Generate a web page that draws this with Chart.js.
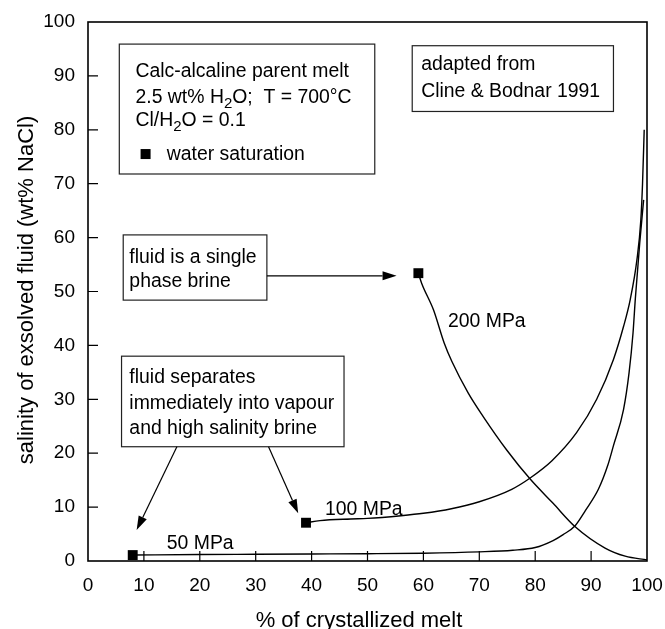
<!DOCTYPE html>
<html>
<head>
<meta charset="utf-8">
<script src="https://cdn.jsdelivr.net/npm/chart.js@4/dist/chart.umd.min.js"></script>
<style>
html,body{margin:0;padding:0;background:#fff;}
canvas{display:block;}
</style>
</head>
<body>
<canvas id="c" width="665" height="629"></canvas>
<script>
// ---- data ----
const xTickLabels = ['0','10','20','30','40','50','60','70','80','90','100'];
const yTickLabels = ['0','10','20','30','40','50','60','70','80','90','100'];

const crystallized50 = [8, 20, 30, 40, 50, 60, 70, 76, 80, 83.2, 85, 87.1, 89, 91.3, 93, 94, 95.8, 96.8, 97.5, 97.9, 98.7, 99.4];
const salinity50     = [1.1, 1.2, 1.25, 1.3, 1.35, 1.45, 1.7, 2.0, 2.5, 3.8, 4.9, 6.5, 9.4, 13.3, 17.8, 21.4, 28.1, 35, 42.3, 48.5, 59, 67];

const crystallized100 = [39, 41.5, 47, 50, 56, 60, 65, 70, 75.8, 79.1, 83, 87.4, 91, 94, 95.8, 97, 98.2, 98.9, 99.2, 99.5];
const salinity100     = [7.1, 7.5, 7.8, 7.9, 8.4, 8.85, 9.7, 11.0, 13.3, 15.4, 18.6, 23.8, 30, 37.4, 43.5, 48.5, 55.9, 63.3, 70, 80];

const crystallized200 = [59.1, 59.7, 61.8, 63.7, 65.1, 68, 70.7, 74.9, 79.1, 83.2, 87.1, 92.5, 96.1, 100];
const salinity200     = [53.4, 51.5, 46.6, 40.5, 37.0, 31.2, 26.8, 20.6, 15.2, 10.7, 6.4, 2.4, 0.9, 0.2];

const seriesNames = ['50 MPa', '100 MPa', '200 MPa'];

// ---- annotation layout (data coordinates) ----
const FONT = '"Liberation Sans", Arial, Helvetica, sans-serif';
const boxes = [
  {x0: 5.6, x1: 51.3, y0: 95.9, y1: 71.8},
  {x0: 58.0, x1: 94.0, y0: 95.6, y1: 83.4},
  {x0: 6.3, x1: 32.0, y0: 60.5, y1: 48.4},
  {x0: 6.0, x1: 45.8, y0: 38.0, y1: 21.2}
];
const texts = [
  {x: 8.5, y: 89.8, seg: [['Calc-alcaline parent melt']]},
  {x: 8.5, y: 85.0, seg: [['2.5 wt% H'], ['2', 1], ['O;  T = 700°C']]},
  {x: 8.5, y: 80.7, seg: [['Cl/H'], ['2', 1], ['O = 0.1']]},
  {x: 14.1, y: 74.4, seg: [['water saturation']]},
  {x: 59.6, y: 91.1, seg: [['adapted from']]},
  {x: 59.6, y: 86.1, seg: [['Cline & Bodnar 1991']]},
  {x: 7.4, y: 55.3, seg: [['fluid is a single']]},
  {x: 7.4, y: 50.8, seg: [['phase brine']]},
  {x: 7.4, y: 33.0, seg: [['fluid separates']]},
  {x: 7.4, y: 28.2, seg: [['immediately into vapour']]},
  {x: 7.4, y: 23.6, seg: [['and high salinity brine']]},
  {x: 64.4, y: 43.4, seg: [['200 MPa']]},
  {x: 42.4, y: 8.5, seg: [['100 MPa']]},
  {x: 14.1, y: 2.2, seg: [['50 MPa']]}
];
const legendMarker = {x: 10.3, y: 75.5};
const arrows = [
  {x0: 32.0, y0: 52.9, x1: 55.2, y1: 52.9},
  {x0: 15.9, y0: 21.2, x1: 8.7, y1: 5.75},
  {x0: 32.3, y0: 21.2, x1: 37.6, y1: 8.85}
];

function pts(xs, ys){ return xs.map((x,i)=>({x:x, y:ys[i]})); }

function ds(label, xs, ys){
  return {
    label: label,
    data: pts(xs, ys),
    showLine: true,
    borderColor: '#000',
    backgroundColor: '#000',
    borderWidth: 1.4,
    cubicInterpolationMode: 'monotone',
    pointStyle: 'rect',
    pointRadius: ctx => ctx.dataIndex === 0 ? 7 : 0,
    pointHoverRadius: 0,
    pointBorderWidth: 0,
    clip: false
  };
}

const decor = {
  id: 'decor',
  afterDraw(chart){
    const ctx = chart.ctx, xs = chart.scales.x, ys = chart.scales.y, a = chart.chartArea;
    const X = v => xs.getPixelForValue(v), Y = v => ys.getPixelForValue(v);
    ctx.save();
    // frame
    ctx.strokeStyle = '#000'; ctx.lineWidth = 1.6;
    ctx.strokeRect(a.left, a.top, a.right - a.left, a.bottom - a.top);
    // inward ticks
    ctx.lineWidth = 1.2;
    ctx.beginPath();
    xs.ticks.forEach(t => { if (t.value > 0 && t.value < 100) { const p = X(t.value); ctx.moveTo(p, a.bottom); ctx.lineTo(p, a.bottom - 10); } });
    ys.ticks.forEach(t => { if (t.value > 0 && t.value < 100) { const p = Y(t.value); ctx.moveTo(a.left, p); ctx.lineTo(a.left + 10, p); } });
    ctx.stroke();
    // boxes
    ctx.strokeStyle = '#222'; ctx.lineWidth = 1.2;
    boxes.forEach(b => {
      ctx.strokeRect(X(b.x0), Y(b.y0), X(b.x1) - X(b.x0), Y(b.y1) - Y(b.y0));
    });
    // arrows
    ctx.fillStyle = '#000'; ctx.strokeStyle = '#000'; ctx.lineWidth = 1.2;
    arrows.forEach(r => {
      const x0 = X(r.x0), y0 = Y(r.y0), x1 = X(r.x1), y1 = Y(r.y1);
      const ang = Math.atan2(y1 - y0, x1 - x0), L = 14, W = 4.5;
      const bx = x1 - L * Math.cos(ang), by = y1 - L * Math.sin(ang);
      ctx.beginPath(); ctx.moveTo(x0, y0); ctx.lineTo(bx, by); ctx.stroke();
      ctx.beginPath();
      ctx.moveTo(x1, y1);
      ctx.lineTo(bx + W * Math.sin(ang), by - W * Math.cos(ang));
      ctx.lineTo(bx - W * Math.sin(ang), by + W * Math.cos(ang));
      ctx.closePath(); ctx.fill();
    });
    // legend marker
    ctx.fillRect(X(legendMarker.x) - 5, Y(legendMarker.y) - 5, 10, 10);
    // texts
    ctx.textBaseline = 'alphabetic'; ctx.textAlign = 'left';
    texts.forEach(t => {
      let px = X(t.x); const py = Y(t.y);
      t.seg.forEach(s => {
        const sub = s[1] === 1;
        ctx.font = (sub ? '15px ' : '19.4px ') + FONT;
        ctx.fillText(s[0], px, py + (sub ? 5 : 0));
        px += ctx.measureText(s[0]).width;
      });
    });
    // axis titles
    ctx.font = '22px ' + FONT;
    ctx.textAlign = 'center';
    ctx.fillText('% of crystallized melt', 359, 627);
    ctx.save();
    ctx.translate(33, 290);
    ctx.rotate(-Math.PI / 2);
    ctx.fillText('salinity of exsolved fluid (wt% NaCl)', 0, 0);
    ctx.restore();
    ctx.restore();
  }
};

new Chart(document.getElementById('c'), {
  type: 'scatter',
  data: {
    datasets: [
      ds(seriesNames[0], crystallized50, salinity50),
      ds(seriesNames[1], crystallized100, salinity100),
      ds(seriesNames[2], crystallized200, salinity200)
    ]
  },
  options: {
    responsive: false,
    devicePixelRatio: 1,
    animation: false,
    layout: {padding: {left: 0, right: 18, top: 22, bottom: 0}},
    plugins: {legend: {display: false}, tooltip: {enabled: false}},
    scales: {
      x: {
        type: 'linear', min: 0, max: 100,
        grid: {display: false, drawTicks: false},
        border: {display: false},
        ticks: {stepSize: 10, autoSkip: false, maxRotation: 0, padding: 13,
          color: '#000', font: {family: FONT, size: 19},
          callback: (v) => xTickLabels[Math.round(v / 10)]},
        afterFit: s => { s.height = 68; s.paddingLeft = 0; s.paddingRight = 0; }
      },
      y: {
        type: 'linear', min: 0, max: 100,
        grid: {display: false, drawTicks: false},
        border: {display: false},
        ticks: {stepSize: 10, autoSkip: false, padding: 13,
          color: '#000', font: {family: FONT, size: 19},
          callback: (v) => yTickLabels[Math.round(v / 10)]},
        afterFit: s => { s.width = 88; s.paddingTop = 0; s.paddingBottom = 0; }
      }
    }
  },
  plugins: [decor]
});
</script>
</body>
</html>
